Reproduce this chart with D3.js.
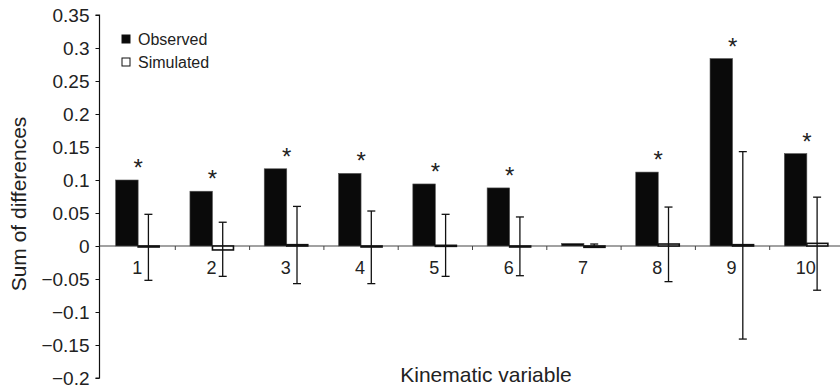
<!DOCTYPE html>
<html>
<head>
<meta charset="utf-8">
<script src="https://cdn.jsdelivr.net/npm/d3@7"></script>
<style>
  body { margin: 0; background: #fff; }
  svg { display: block; font-family: "Liberation Sans", Arial, Helvetica, sans-serif; }
</style>
</head>
<body>
<svg id="chart" width="840" height="389"></svg>
<script>
// data
const categories = ["1", "2", "3", "4", "5", "6", "7", "8", "9", "10"];
const observed  = [0.100, 0.083, 0.117, 0.110, 0.094, 0.088, 0.004, 0.112, 0.284, 0.140];
const simulated = [-0.001, -0.006, 0.002, -0.001, 0.001, -0.001, -0.002, 0.003, 0.002, 0.004];
const errHigh   = [0.048, 0.036, 0.060, 0.053, 0.048, 0.044, 0.003, 0.059, 0.143, 0.074];
const errLow    = [-0.052, -0.046, -0.057, -0.057, -0.046, -0.045, -0.002, -0.054, -0.141, -0.067];
const significant = [true, true, true, true, true, true, false, true, true, true];
const yTicks = [0.35, 0.3, 0.25, 0.2, 0.15, 0.1, 0.05, 0, -0.05, -0.1, -0.15, -0.2];
const seriesNames = ["Observed", "Simulated"];

const svg = d3.select("#chart");
const axisX = 99.5;

const x = d3.scaleBand().domain(categories).range([101, 844]).padding(0);
const xs = d3.scaleBand().domain(seriesNames).range([0, x.bandwidth()])
    .paddingInner(0).paddingOuter(0.65);
const y = d3.scaleLinear().domain([-0.2, 0.35]).range([378, 15]);

const fmt = v => v === 0 ? "0" : (v < 0 ? "\u2212" : "") + String(Math.abs(v));

// y axis
const yAxis = svg.append("g")
  .attr("transform", `translate(${axisX},0)`)
  .call(d3.axisLeft(y).tickValues(yTicks).tickSize(4).tickPadding(6).tickFormat(fmt));
yAxis.select(".domain").attr("d", `M-4,${y(0.35)}H0V${y(-0.2)}H-4`).attr("stroke", "#111").attr("stroke-width", 1.2);
yAxis.selectAll(".tick line").attr("stroke", "#111");
yAxis.selectAll(".tick text").attr("font-size", 19).attr("fill", "#222");

// zero line with ticks between categories
svg.append("line")
  .attr("x1", axisX).attr("x2", 840)
  .attr("y1", y(0)).attr("y2", y(0))
  .attr("stroke", "#444").attr("stroke-width", 1.2);
svg.append("g").selectAll("line")
  .data(categories.slice(1))
  .join("line")
  .attr("x1", d => x(d)).attr("x2", d => x(d))
  .attr("y1", y(0)).attr("y2", y(0) + 4)
  .attr("stroke", "#444");

// observed bars
svg.append("g").selectAll("rect")
  .data(categories)
  .join("rect")
  .attr("x", d => x(d) + xs("Observed"))
  .attr("width", xs.bandwidth())
  .attr("y", (d, i) => y(Math.max(0, observed[i])))
  .attr("height", (d, i) => Math.abs(y(observed[i]) - y(0)))
  .attr("fill", "#0a0a0a")
  .attr("stroke", "#555")
  .attr("stroke-width", 0.6);

// simulated bars
svg.append("g").selectAll("rect")
  .data(categories)
  .join("rect")
  .attr("x", d => x(d) + xs("Simulated"))
  .attr("width", xs.bandwidth() - 1.5)
  .attr("y", (d, i) => y(Math.max(0, simulated[i])))
  .attr("height", (d, i) => Math.max(1, Math.abs(y(simulated[i]) - y(0))))
  .attr("fill", "#fff")
  .attr("stroke", "#111")
  .attr("stroke-width", 1.6);

// error bars on simulated
const eb = svg.append("g").attr("stroke", "#111").attr("stroke-width", 1.3);
const ecx = d => x(d) + xs("Simulated") + xs.bandwidth() / 2 - 1;
eb.selectAll(".v").data(categories).join("line").attr("class", "v")
  .attr("x1", ecx).attr("x2", ecx)
  .attr("y1", (d, i) => y(errHigh[i])).attr("y2", (d, i) => y(errLow[i]));
eb.selectAll(".t").data(categories).join("line").attr("class", "t")
  .attr("x1", d => ecx(d) - 4).attr("x2", d => ecx(d) + 4)
  .attr("y1", (d, i) => y(errHigh[i])).attr("y2", (d, i) => y(errHigh[i]));
eb.selectAll(".b").data(categories).join("line").attr("class", "b")
  .attr("x1", d => ecx(d) - 4).attr("x2", d => ecx(d) + 4)
  .attr("y1", (d, i) => y(errLow[i])).attr("y2", (d, i) => y(errLow[i]));

// asterisks
svg.append("g").selectAll("text")
  .data(categories.filter((d, i) => significant[i]))
  .join("text")
  .attr("x", d => x(d) + x.bandwidth() / 2)
  .attr("y", d => y(observed[categories.indexOf(d)]) - 4)
  .attr("text-anchor", "middle")
  .attr("font-size", 24)
  .attr("fill", "#222")
  .text("*");

// category labels
svg.append("g").selectAll("text")
  .data(categories)
  .join("text")
  .attr("x", d => x(d) + x.bandwidth() / 2 - 1)
  .attr("y", y(0) + 28)
  .attr("text-anchor", "middle")
  .attr("font-size", 18)
  .attr("fill", "#222")
  .text(d => d);

// axis titles
svg.append("text")
  .attr("transform", "translate(26,204) rotate(-90)")
  .attr("text-anchor", "middle")
  .attr("font-size", 21)
  .attr("fill", "#222")
  .text("Sum of differences");
svg.append("text")
  .attr("x", 486).attr("y", 382)
  .attr("text-anchor", "middle")
  .attr("font-size", 21)
  .attr("fill", "#222")
  .text("Kinematic variable");

// legend
const legend = svg.append("g").attr("transform", "translate(122,35)");
legend.selectAll("rect")
  .data(seriesNames)
  .join("rect")
  .attr("x", 0).attr("y", (d, i) => i * 23)
  .attr("width", 8).attr("height", 8)
  .attr("fill", (d, i) => i === 0 ? "#0a0a0a" : "#fff")
  .attr("stroke", "#111").attr("stroke-width", 1);
legend.selectAll("text")
  .data(seriesNames)
  .join("text")
  .attr("x", 16).attr("y", (d, i) => i * 23 + 9.5)
  .attr("font-size", 16)
  .attr("fill", "#222")
  .text(d => d);
</script>
</body>
</html>
